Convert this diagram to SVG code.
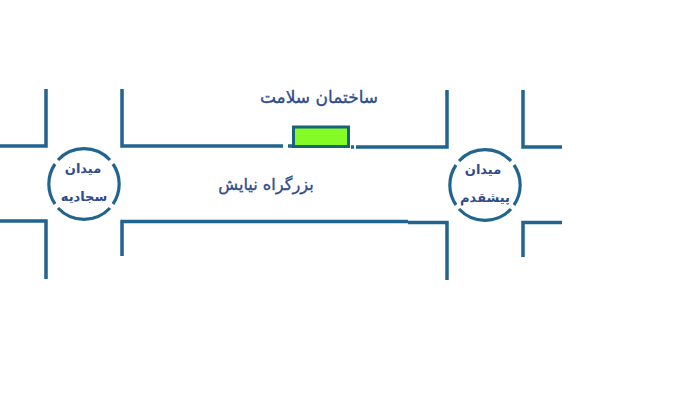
<svg xmlns="http://www.w3.org/2000/svg" width="680" height="400" viewBox="0 0 680 400">
<style>
.w{fill:none;stroke:#20648f;stroke-width:3.5}
.c{fill:none;stroke:#20648f;stroke-width:3.2}
text{font-family:"DejaVu Sans",sans-serif;fill:#2f4c8a;text-anchor:middle;direction:rtl;font-weight:bold}
.s{font-size:13px}
.l{font-weight:normal;stroke:#2f4c8a;stroke-width:.35}
</style>
<rect width="680" height="400" fill="#fff"/>
<g id="connectors">
<path class="w" d="M0 146H46V89"/>
<path class="w" d="M0 221H46V279"/>
<path class="w" d="M122 89V146H283"/>
<path class="w" d="M288 146H293"/>
<path class="w" d="M351 147H354M356 147H447V90"/>
<path class="w" d="M122 256V221.500H408M408 222.500H447V280"/>
<path class="w" d="M523 90V147H562"/>
<path class="w" d="M523 257V222.500H562"/>
</g>
<g id="building"><rect x="293.500" y="127" width="55" height="19.500" fill="#84fb26" stroke="#17637a" stroke-width="3"/></g>
<g id="square-sajjadieh">
<path class="c" d="M58 160A35.500 35.500 0 0 1 110 160M113 164A35.500 35.500 0 0 1 113 204M110 208A35.500 35.500 0 0 1 58 208M55 204A35.500 35.500 0 0 1 55 164"/>
<text class="s" x="83" y="172.500">میدان</text>
<text class="s" x="84" y="201">سجادیه</text>
</g>
<g id="square-pishghadam">
<path class="c" d="M459 161A35.500 35.500 0 0 1 511 161M514 165A35.500 35.500 0 0 1 514 205M511 209A35.500 35.500 0 0 1 459 209M456 205A35.500 35.500 0 0 1 456 165"/>
<text class="s" x="483" y="173.500">میدان</text>
<text class="s" x="485" y="202">پیشقدم</text>
</g>
<g id="label-salamat"><text class="l" x="319" y="102.500" font-size="17">ساختمان سلامت</text></g>
<g id="label-niayesh"><text class="l" x="266" y="189.500" font-size="16.200">بزرگراه نیایش</text></g>
</svg>
